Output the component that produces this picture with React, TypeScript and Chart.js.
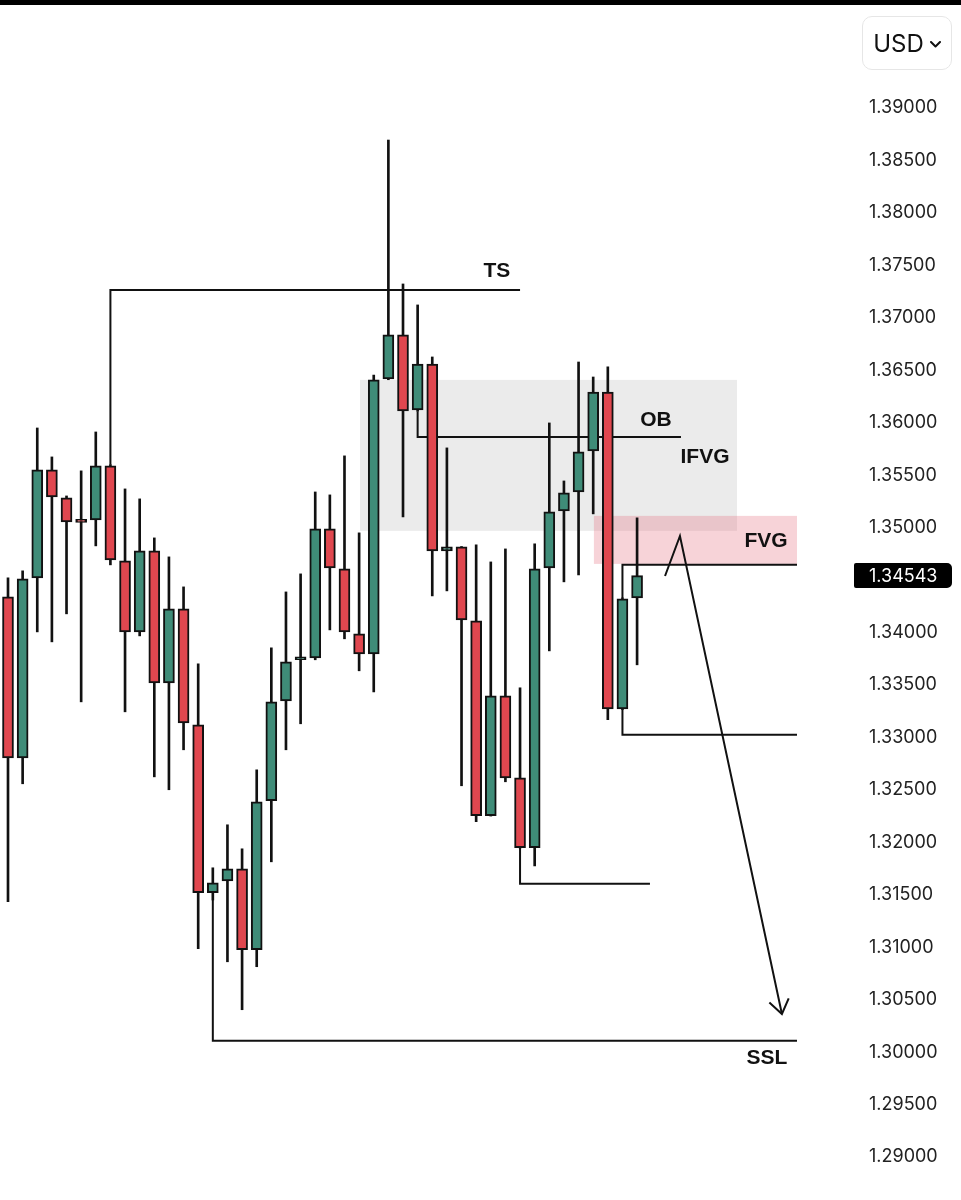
import React, { useEffect, useRef } from 'react';
import { Chart, registerables } from 'chart.js';

Chart.register(...registerables);

// ---- Candle data ----
const OPEN = [
  1.34340, 1.32805, 1.34521, 1.35550, 1.35283, 1.35065, 1.35074, 1.35588, 1.34683, 1.34006,
  1.34778, 1.33520, 1.34225, 1.33120, 1.31519, 1.31633, 1.31748, 1.30976, 1.32396, 1.33349,
  1.33740, 1.33758, 1.34988, 1.34607, 1.33987, 1.33797, 1.36417, 1.36837, 1.36122, 1.36560,
  1.34778, 1.34816, 1.34111, 1.32253, 1.33396, 1.32615, 1.31948, 1.34616, 1.35159, 1.35340,
  1.35731, 1.36293, 1.33272, 1.34330,
];
const HIGH = [
  1.34521, 1.34588, 1.35950, 1.35674, 1.35302, 1.35541, 1.35912, 1.35600, 1.35369, 1.35274,
  1.34902, 1.34721, 1.34435, 1.33701, 1.31757, 1.32167, 1.31938, 1.32691, 1.33854, 1.34387,
  1.34559, 1.35340, 1.35312, 1.35684, 1.34950, 1.36455, 1.38695, 1.37323, 1.37123, 1.36627,
  1.35760, 1.34820, 1.34835, 1.34673, 1.34797, 1.33473, 1.34845, 1.35998, 1.35445, 1.36579,
  1.36436, 1.36532, 1.34330, 1.35093,
];
const LOW = [
  1.31433, 1.32558, 1.34006, 1.33911, 1.34178, 1.33339, 1.34826, 1.34645, 1.33244, 1.33968,
  1.32624, 1.32501, 1.32882, 1.30985, 1.31450, 1.30861, 1.30404, 1.30814, 1.31814, 1.32882,
  1.33130, 1.33740, 1.34025, 1.33940, 1.33635, 1.33434, 1.36410, 1.35102, 1.36110, 1.34349,
  1.34397, 1.32539, 1.32196, 1.32250, 1.32577, 1.31945, 1.31776, 1.33825, 1.34483, 1.34549,
  1.35131, 1.33168, 1.33265, 1.33692,
];
const CLOSE = [
  1.32805, 1.34511, 1.35550, 1.35293, 1.35055, 1.35050, 1.35588, 1.34692, 1.34006, 1.34778,
  1.33520, 1.34225, 1.33139, 1.31519, 1.31614, 1.31748, 1.30976, 1.32386, 1.33339, 1.33720,
  1.33760, 1.34988, 1.34616, 1.34006, 1.33797, 1.36408, 1.36837, 1.36112, 1.36560, 1.34778,
  1.34816, 1.34121, 1.32253, 1.33396, 1.32615, 1.31948, 1.34607, 1.35150, 1.35331, 1.35722,
  1.36293, 1.33272, 1.34321, 1.34543,
];

const Y_TICKS = [
  1.39, 1.385, 1.38, 1.375, 1.37, 1.365, 1.36, 1.355, 1.35,
  1.34, 1.335, 1.33, 1.325, 1.32, 1.315, 1.31, 1.305, 1.30, 1.295, 1.29,
];
const LAST_PRICE = 1.34543;

// ---- Annotations (in data units: candle index / price) ----
const ZONE_LEFT = [24.06, 40.05];
const ZONE_RIGHT = [49.83, 53.93];
const ZONE_TOP = [1.36408, 1.35112];
const ZONE_BOTTOM = [1.34969, 1.34654];
const ZONE_COLORS = ['rgba(225,225,225,0.65)', 'rgba(228,110,125,0.3)'];

// level lines: start candle, level, end index
const LEVEL_FROM = [7, 28, 42, 42, 35, 14];
const LEVEL_VALUE = [1.37266, 1.35865, 1.34645, 1.33025, 1.31605, 1.30109];
const LEVEL_TO = [35.0, 46.0, 53.93, 53.93, 43.88, 53.93];
const LEVEL_ANCHOR_IS_HIGH = [true, false, true, false, false, false];

const LABEL_TEXT = ['TS', 'OB', 'IFVG', 'FVG', 'SSL'];
const LABEL_X = [33.42, 44.29, 47.64, 51.81, 51.88];
const LABEL_Y = [1.37441, 1.36026, 1.35673, 1.34872, 1.29944];

const ARROW_X = [44.91, 45.93, 52.9];
const ARROW_Y = [1.34539, 1.34920, 1.30363];

const UP = '#3f8c78';
const DOWN = '#e0474f';
const INK = '#111111';

const annotationPlugin = {
  id: 'smcAnnotations',
  beforeDatasetsDraw(chart: any) {
    const { ctx } = chart;
    const xs = chart.scales.x;
    const ys = chart.scales.y;
    ctx.save();
    for (let i = 0; i < ZONE_LEFT.length; i++) {
      const x0 = xs.getPixelForValue(ZONE_LEFT[i]);
      const x1 = xs.getPixelForValue(ZONE_RIGHT[i]);
      const y0 = ys.getPixelForValue(ZONE_TOP[i]);
      const y1 = ys.getPixelForValue(ZONE_BOTTOM[i]);
      ctx.fillStyle = ZONE_COLORS[i];
      ctx.fillRect(x0, y0, x1 - x0, y1 - y0);
    }
    ctx.strokeStyle = INK;
    ctx.lineWidth = 2;
    for (let i = 0; i < LEVEL_FROM.length; i++) {
      const c = LEVEL_FROM[i];
      const anchor = LEVEL_ANCHOR_IS_HIGH[i] ? HIGH[c] : LOW[c];
      const x0 = xs.getPixelForValue(c);
      const x1 = xs.getPixelForValue(LEVEL_TO[i]);
      const ya = ys.getPixelForValue(anchor);
      const yl = ys.getPixelForValue(LEVEL_VALUE[i]);
      ctx.beginPath();
      ctx.moveTo(x0, ya);
      ctx.lineTo(x0, yl);
      ctx.lineTo(x1, yl);
      ctx.stroke();
    }
    ctx.restore();
  },
  afterDatasetsDraw(chart: any) {
    const { ctx, chartArea } = chart;
    const xs = chart.scales.x;
    const ys = chart.scales.y;
    ctx.save();
    ctx.fillStyle = INK;
    ctx.font = 'bold 21px "Liberation Sans", Arial, sans-serif';
    ctx.textAlign = 'center';
    ctx.textBaseline = 'middle';
    for (let i = 0; i < LABEL_TEXT.length; i++) {
      ctx.fillText(LABEL_TEXT[i], xs.getPixelForValue(LABEL_X[i]), ys.getPixelForValue(LABEL_Y[i]));
    }
    ctx.strokeStyle = INK;
    ctx.lineWidth = 2;
    ctx.beginPath();
    const pts = ARROW_X.map((v, i) => [xs.getPixelForValue(v), ys.getPixelForValue(ARROW_Y[i])]);
    pts.forEach((p, i) => (i === 0 ? ctx.moveTo(p[0], p[1]) : ctx.lineTo(p[0], p[1])));
    ctx.stroke();
    const tip = pts[pts.length - 1];
    const prev = pts[pts.length - 2];
    const ang = Math.atan2(tip[1] - prev[1], tip[0] - prev[0]);
    const head = 17;
    const spread = 0.62;
    ctx.beginPath();
    ctx.moveTo(tip[0] - head * Math.cos(ang - spread), tip[1] - head * Math.sin(ang - spread));
    ctx.lineTo(tip[0], tip[1]);
    ctx.lineTo(tip[0] - head * Math.cos(ang + spread), tip[1] - head * Math.sin(ang + spread));
    ctx.stroke();
    const yp = ys.getPixelForValue(LAST_PRICE);
    const left = chartArea.right + 54;
    const w = 98;
    const h = 25;
    ctx.fillStyle = '#000';
    ctx.beginPath();
    if (ctx.roundRect) ctx.roundRect(left, yp - h / 2, w, h, [2, 5, 5, 2]);
    else ctx.rect(left, yp - h / 2, w, h);
    ctx.fill();
    ctx.fillStyle = '#fff';
    ctx.font = '18px Inter, "Noto Sans", sans-serif';
    ctx.textAlign = 'left';
    ctx.textBaseline = 'middle';
    ctx.fillText(LAST_PRICE.toFixed(5), chartArea.right + 69, yp + 1);
    ctx.restore();
  },
};

export default function App() {
  const canvasRef = useRef<HTMLCanvasElement | null>(null);

  useEffect(() => {
    if (!canvasRef.current) return;
    const idx = OPEN.map((_, i) => i);
    const chart = new Chart(canvasRef.current, {
      type: 'bar',
      data: {
        datasets: [
          {
            label: 'body',
            data: idx.map((i) => ({ x: i, y: [OPEN[i], CLOSE[i]] })) as any,
            backgroundColor: idx.map((i) => (CLOSE[i] >= OPEN[i] ? UP : DOWN)),
            borderColor: INK,
            borderWidth: 2,
            borderSkipped: false,
            barThickness: 11,
            minBarLength: 3,
            grouped: false,
            order: 0,
          } as any,
          {
            label: 'wick',
            data: idx.map((i) => ({ x: i, y: [LOW[i], HIGH[i]] })) as any,
            backgroundColor: INK,
            borderWidth: 0,
            barThickness: 2,
            grouped: false,
            order: 1,
          } as any,
        ],
      },
      options: {
        responsive: false,
        animation: false,
        layout: { padding: 0 },
        plugins: { legend: { display: false }, tooltip: { enabled: false } },
        scales: {
          x: { type: 'linear', min: -0.547, max: 54.136, offset: false, display: false },
          y: {
            type: 'linear',
            position: 'right',
            min: 1.2859,
            max: 1.4003,
            grid: { display: false, drawTicks: false },
            border: { display: false },
            afterBuildTicks: (s: any) => {
              s.ticks = Y_TICKS.map((v) => ({ value: v }));
            },
            afterFit: (s: any) => {
              s.width = 161;
              s.paddingTop = 0;
              s.paddingBottom = 0;
            },
            ticks: {
              padding: 69,
              color: '#222',
              font: { family: 'Inter, "Noto Sans", sans-serif', size: 18 },
              callback: (v: any) => Number(v).toFixed(5),
            },
          },
        },
      } as any,
      plugins: [annotationPlugin],
    });
    return () => chart.destroy();
  }, []);

  return (
    <div style={{ position: 'absolute', left: 0, top: 0, width: 961, height: 1200, background: '#fff', overflow: 'hidden' }}>
      <canvas ref={canvasRef} width={961} height={1200} style={{ display: 'block' }} />
      <div style={{ position: 'absolute', left: 0, top: 0, width: 961, height: 5, background: '#000' }} />
      <div
        style={{
          position: 'absolute',
          left: 862,
          top: 16,
          width: 90,
          height: 54,
          boxSizing: 'border-box',
          border: '1.5px solid #e6e6e6',
          borderRadius: 10,
          display: 'flex',
          alignItems: 'center',
          justifyContent: 'center',
          gap: 6,
          fontFamily: 'Inter, "Noto Sans", sans-serif',
          fontSize: 24,
          color: '#111',
        }}
      >
        <span>USD</span>
        <svg width="11" height="7" viewBox="0 0 11 7" style={{ marginTop: 3 }}>
          <polyline points="1,1 5.5,5.5 10,1" fill="none" stroke="#111" strokeWidth="2" strokeLinecap="round" strokeLinejoin="round" />
        </svg>
      </div>
    </div>
  );
}
